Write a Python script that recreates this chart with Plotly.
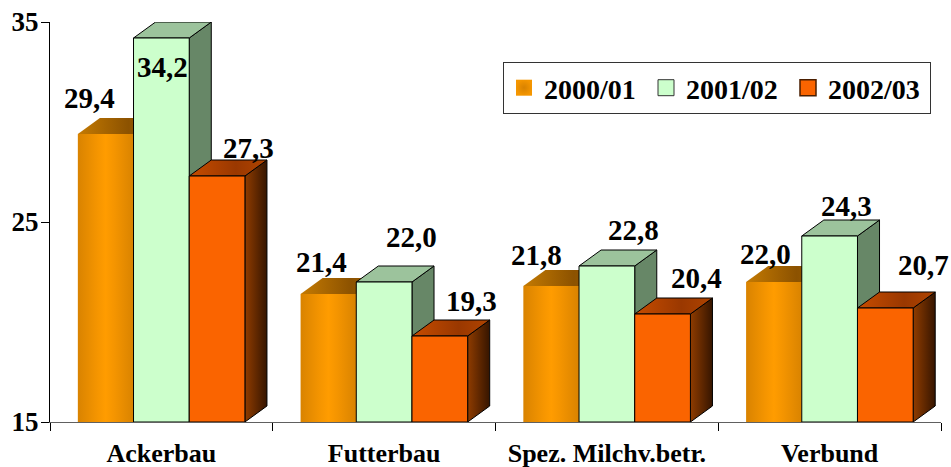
import plotly.graph_objects as go

# ---- data -------------------------------------------------------------
categories = ["Ackerbau", "Futterbau", "Spez. Milchv.betr.", "Verbund"]
series_names = ["2000/01", "2001/02", "2002/03"]
values_2000_01 = [29.4, 21.4, 21.8, 22.0]
values_2001_02 = [34.2, 22.0, 22.8, 24.3]
values_2002_03 = [27.3, 19.3, 20.4, 20.7]
y_ticks = [15, 25, 35]

series_values = [values_2000_01, values_2001_02, values_2002_03]

# ---- geometry of the pseudo-3D columns (axis units) -------------------
Y_MIN, Y_MAX = 15, 35
BAR_W = 0.25          # width of one column, in category units
DEPTH_X = 0.099       # receding depth, horizontal part
DEPTH_Y = 0.8         # receding depth, vertical part

FONT = "Liberation Serif"

# ---- styles per series ------------------------------------------------
styles = [
    dict(  # 2000/01 : golden orange, no outline
        front=dict(type="horizontal",
                   colorscale=[[0, "#D98300"], [0.35, "#F59500"], [0.5, "#FF9C00"],
                               [0.65, "#F59500"], [1, "#D98300"]]),
        top=dict(type="horizontal", colorscale=[[0, "#C47A02"], [0.65, "#8C5200"], [1, "#9E5E00"]]),
        side=dict(type="horizontal", colorscale=[[0, "#9A5A00"], [1, "#5A3200"]]),
        line=None,
        legend=dict(color="#F59600", line=dict(width=0),
                    gradient=dict(type="radial", color="#D88200")),
    ),
    dict(  # 2001/02 : pale green, black outline
        front="#CCFFCC",
        top="#9CC39C",
        side="#678767",
        line="black",
        legend=dict(color="#CCFFCC", line=dict(color="#333333", width=1)),
    ),
    dict(  # 2002/03 : bright orange-red, black outline
        front="#FA6400",
        top=dict(type="horizontal", colorscale=[[0, "#C64C00"], [0.6, "#9A3800"], [1, "#B04400"]]),
        side=dict(type="horizontal", colorscale=[[0, "#8F3C00"], [1, "#361500"]]),
        line="black",
        legend=dict(color="#FA6400", line=dict(color="#4A1E00", width=1.5)),
    ),
]

# value-label nudges in pixels (xshift, yshift) relative to the column top
label_shift = [
    [(-16, 36), (-7, 32), (-15, 31), (-8, 28)],
    [(1, -29), (27, 45), (27, 36), (17, 30)],
    [(31, 28), (32, 35), (34, 36), (38, 43)],
]


def face(xs, ys, fill, line_color):
    """One filled polygon of a column (front, top or side)."""
    tr = dict(
        x=list(xs) + [xs[0]],
        y=list(ys) + [ys[0]],
        mode="lines",
        fill="toself",
        hoverinfo="skip",
        showlegend=False,
        cliponaxis=False,
    )
    if line_color:
        tr["line"] = dict(color=line_color, width=1)
    else:
        tr["line"] = dict(width=0, color="rgba(0,0,0,0)")
    if isinstance(fill, dict):
        tr["fillgradient"] = fill
        tr["fillcolor"] = fill["colorscale"][0][1]
    else:
        tr["fillcolor"] = fill
    return go.Scatter(**tr)


fig = go.Figure()

for k, cat in enumerate(categories):
    for i, vals in enumerate(series_values):
        v = vals[k]
        st = styles[i]
        xc = k + (i - 1) * BAR_W
        x0, x1 = xc - BAR_W / 2, xc + BAR_W / 2
        # right-hand side face
        fig.add_trace(face(
            [x1, x1 + DEPTH_X, x1 + DEPTH_X, x1],
            [Y_MIN, Y_MIN + DEPTH_Y, v + DEPTH_Y, v],
            st["side"], st["line"]))
        # top face
        fig.add_trace(face(
            [x0, x1, x1 + DEPTH_X, x0 + DEPTH_X],
            [v, v, v + DEPTH_Y, v + DEPTH_Y],
            st["top"], st["line"]))
        # front face
        fig.add_trace(face(
            [x0, x1, x1, x0],
            [Y_MIN, Y_MIN, v, v],
            st["front"], st["line"]))
        # value label
        dx, dy = label_shift[i][k]
        fig.add_annotation(
            x=xc, y=v, text=f"<b>{v:.1f}</b>".replace(".", ","),
            showarrow=False, xanchor="center", yanchor="middle",
            xshift=dx, yshift=dy,
            font=dict(family=FONT, size=29, color="black"),
        )

# legend entries
for name, st in zip(series_names, styles):
    fig.add_trace(go.Scatter(
        x=[None], y=[None], mode="markers", name=f"<b>{name}</b>",
        marker=dict(symbol="square", size=16, **st["legend"]),
    ))

fig.update_layout(
    width=951, height=467,
    margin=dict(l=50, r=10, t=22, b=45, pad=0, autoexpand=False),
    paper_bgcolor="white", plot_bgcolor="white",
    font=dict(family=FONT, color="black"),
    showlegend=True,
    legend=dict(
        orientation="h",
        x=(503 - 50) / 891, y=(422 - 62) / 400,
        xanchor="left", yanchor="top",
        entrywidth=97, entrywidthmode="pixels",
        bgcolor="white", bordercolor="#333333", borderwidth=1,
        font=dict(family=FONT, size=28, color="black"),
        itemclick=False, itemdoubleclick=False,
    ),
    xaxis=dict(
        range=[-0.5, 3.5], tickmode="array", tickvals=list(range(len(categories))),
        ticktext=[f"<b>{c}</b>" for c in categories], ticks="",
        showgrid=False, zeroline=False,
        showline=True, linecolor="#606060", linewidth=1,
        tickfont=dict(family=FONT, size=26, color="black"),
        ticklabelstandoff=8,
        minor=dict(tickmode="linear", tick0=-0.5, dtick=1, ticks="outside",
                   ticklen=8, tickwidth=1, tickcolor="black", showgrid=False),
        automargin=False, fixedrange=True,
    ),
    yaxis=dict(
        range=[Y_MIN, Y_MAX], tickmode="array", tickvals=y_ticks,
        ticktext=[f"<b>{t}</b>" for t in y_ticks],
        ticks="outside", ticklen=8, tickwidth=1, tickcolor="black",
        showline=True, linecolor="black", linewidth=1,
        showgrid=False, zeroline=False,
        tickfont=dict(family=FONT, size=27, color="black"),
        ticklabelstandoff=-3,
        automargin=False, fixedrange=True,
    ),
)

fig.write_html("out.html")
